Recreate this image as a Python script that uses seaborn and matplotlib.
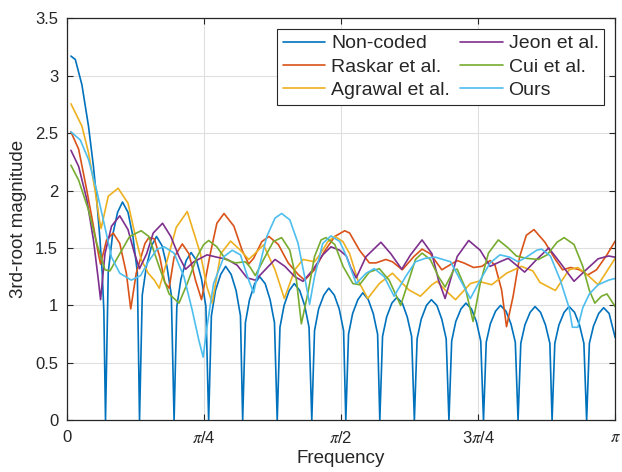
"""
Frequency response (3rd-root magnitude) of blur codes
"""

import numpy as np
import pandas as pd
import matplotlib
matplotlib.use("Agg")
import matplotlib.pyplot as plt
import seaborn as sns
from matplotlib.lines import Line2D

# ---------------------------------------------------------
# DATA (frequency given as a fraction of pi)
# ---------------------------------------------------------
noncoded_x = [0.008, 0.016, 0.028, 0.040, 0.049, 0.055, 0.061, 0.065, 0.068,
              0.071, 0.076, 0.0835, 0.093, 0.102, 0.112, 0.121, 0.129,
              0.133, 0.138, 0.1455, 0.155, 0.164, 0.174, 0.183, 0.191,
              0.196, 0.201, 0.2085, 0.218, 0.227, 0.237, 0.246, 0.254,
              0.259, 0.264, 0.2715, 0.281, 0.290, 0.300, 0.309, 0.317,
              0.321, 0.326, 0.3335, 0.343, 0.352, 0.362, 0.371, 0.379,
              0.384, 0.389, 0.3965, 0.406, 0.415, 0.425, 0.434, 0.442,
              0.447, 0.452, 0.4595, 0.469, 0.478, 0.488, 0.497, 0.505,
              0.509, 0.514, 0.5215, 0.531, 0.540, 0.550, 0.559, 0.567,
              0.571, 0.576, 0.5835, 0.593, 0.602, 0.612, 0.621, 0.629,
              0.634, 0.639, 0.6465, 0.656, 0.665, 0.675, 0.684, 0.692,
              0.697, 0.702, 0.7095, 0.719, 0.728, 0.738, 0.747, 0.755,
              0.760, 0.765, 0.7725, 0.782, 0.791, 0.801, 0.810, 0.818,
              0.823, 0.828, 0.8355, 0.845, 0.854, 0.864, 0.873, 0.881,
              0.885, 0.890, 0.8975, 0.907, 0.916, 0.926, 0.935, 0.943,
              0.948, 0.953, 0.9605, 0.970, 0.979, 0.989, 1.000]
noncoded_y = [3.17, 3.14, 2.92, 2.56, 2.21, 1.92, 1.57, 1.28, 0.95,
              0, 1.29, 1.60, 1.81, 1.90, 1.81, 1.60, 1.29,
              0, 1.09, 1.34, 1.52, 1.60, 1.52, 1.34, 1.09,
              0, 0.99, 1.23, 1.39, 1.46, 1.39, 1.23, 0.99,
              0, 0.91, 1.13, 1.27, 1.34, 1.27, 1.13, 0.91,
              0, 0.85, 1.05, 1.19, 1.25, 1.19, 1.05, 0.85,
              0, 0.81, 1.00, 1.13, 1.19, 1.13, 1.00, 0.81,
              0, 0.78, 0.97, 1.09, 1.15, 1.09, 0.97, 0.78,
              0, 0.75, 0.93, 1.05, 1.11, 1.05, 0.93, 0.75,
              0, 0.73, 0.90, 1.02, 1.07, 1.02, 0.90, 0.73,
              0, 0.71, 0.88, 1.00, 1.05, 1.00, 0.88, 0.71,
              0, 0.69, 0.86, 0.97, 1.02, 0.97, 0.86, 0.69,
              0, 0.68, 0.84, 0.95, 1.00, 0.95, 0.84, 0.68,
              0, 0.67, 0.83, 0.94, 0.99, 0.94, 0.83, 0.67,
              0, 0.67, 0.83, 0.94, 0.99, 0.94, 0.83, 0.67,
              0, 0.67, 0.82, 0.93, 0.98, 0.93, 0.72]

raskar_x = [0.008, 0.022, 0.037, 0.049, 0.058, 0.062, 0.073, 0.085, 0.097, 0.109,
            0.117, 0.127, 0.143, 0.150, 0.160, 0.170, 0.179, 0.187, 0.196, 0.211,
            0.223, 0.235, 0.246, 0.262, 0.274, 0.287, 0.305, 0.320, 0.332, 0.341,
            0.356, 0.369, 0.386, 0.404, 0.422, 0.434, 0.452, 0.470, 0.489, 0.507,
            0.516, 0.534, 0.552, 0.564, 0.582, 0.594, 0.612, 0.633, 0.648, 0.663,
            0.678, 0.684, 0.712, 0.724, 0.742, 0.757, 0.772, 0.781, 0.793, 0.802,
            0.814, 0.826, 0.838, 0.852, 0.872, 0.891, 0.904, 0.919, 0.935, 0.950,
            0.966, 0.985, 1.000]
raskar_y = [2.51, 2.36, 2.00, 1.69, 1.45, 1.36, 1.57, 1.63, 1.54, 1.28,
            0.97, 1.28, 1.54, 1.59, 1.58, 1.42, 1.20, 1.15, 1.42, 1.535,
            1.45, 1.22, 1.05, 1.45, 1.715, 1.80, 1.69, 1.48, 1.36, 1.41,
            1.556, 1.60, 1.53, 1.37, 1.27, 1.22, 1.31, 1.47, 1.60, 1.65,
            1.63, 1.48, 1.37, 1.37, 1.40, 1.38, 1.31, 1.425, 1.49, 1.45,
            1.35, 1.31, 1.39, 1.37, 1.33, 1.34, 1.39, 1.35, 1.135, 0.815,
            1.08, 1.425, 1.61, 1.66, 1.55, 1.40, 1.31, 1.33, 1.31, 1.265,
            1.31, 1.44, 1.56]

agrawal_x = [0.008, 0.028, 0.040, 0.052, 0.060, 0.063, 0.076, 0.094, 0.112, 0.127,
             0.136, 0.149, 0.160, 0.169, 0.185, 0.200, 0.220, 0.244, 0.256, 0.2655,
             0.281, 0.299, 0.317, 0.332, 0.341, 0.359, 0.380, 0.397, 0.416, 0.431,
             0.452, 0.4614, 0.4765, 0.489, 0.5036, 0.516, 0.531, 0.549, 0.570, 0.594,
             0.624, 0.645, 0.666, 0.6754, 0.690, 0.709, 0.736, 0.751, 0.775, 0.802,
             0.829, 0.850, 0.863, 0.891, 0.916, 0.932, 0.953, 0.969, 1.000]
agrawal_y = [2.755, 2.56, 2.33, 2.00, 1.74, 1.67, 1.95, 2.02, 1.89, 1.57,
             1.40, 1.28, 1.22, 1.15, 1.42, 1.68, 1.817, 1.45, 1.16, 1.02,
             1.45, 1.56, 1.48, 1.40, 1.44, 1.527, 1.31, 1.06, 1.31, 1.40,
             1.38, 1.44, 1.556, 1.60, 1.556, 1.45, 1.22, 1.06, 1.19, 1.28,
             1.135, 1.08, 1.18, 1.21, 1.135, 1.05, 1.19, 1.21, 1.18, 1.28,
             1.34, 1.30, 1.20, 1.13, 1.31, 1.33, 1.25, 1.18, 1.41]

jeon_x = [0.008, 0.022, 0.037, 0.049, 0.058, 0.062, 0.070, 0.082, 0.097, 0.112,
          0.124, 0.133, 0.146, 0.158, 0.175, 0.190, 0.205, 0.217, 0.232, 0.256,
          0.274, 0.293, 0.311, 0.329, 0.344, 0.362, 0.380, 0.398, 0.416, 0.431,
          0.449, 0.467, 0.482, 0.498, 0.510, 0.518, 0.528, 0.546, 0.573, 0.591,
          0.611, 0.627, 0.648, 0.666, 0.678, 0.690, 0.712, 0.733, 0.754, 0.772,
          0.790, 0.805, 0.820, 0.835, 0.857, 0.879, 0.900, 0.925, 0.947, 0.969,
          0.988, 1.000]
jeon_y = [2.35, 2.21, 1.92, 1.57, 1.22, 1.05, 1.45, 1.69, 1.78, 1.66,
          1.45, 1.32, 1.45, 1.63, 1.715, 1.60, 1.425, 1.315, 1.38, 1.44,
          1.42, 1.40, 1.35, 1.24, 1.22, 1.31, 1.40, 1.34, 1.25, 1.21,
          1.31, 1.44, 1.51, 1.48, 1.43, 1.33, 1.24, 1.425, 1.55, 1.45,
          1.315, 1.44, 1.57, 1.45, 1.22, 1.06, 1.425, 1.565, 1.48, 1.34,
          1.38, 1.41, 1.35, 1.29, 1.40, 1.50, 1.37, 1.21, 1.31, 1.406,
          1.43, 1.42]

cui_x = [0.008, 0.022, 0.040, 0.055, 0.070, 0.079, 0.097, 0.115, 0.136, 0.150,
         0.170, 0.187, 0.205, 0.220, 0.238, 0.250, 0.259, 0.274, 0.290, 0.308,
         0.326, 0.335, 0.344, 0.362, 0.377, 0.392, 0.407, 0.419, 0.428, 0.440,
         0.452, 0.464, 0.473, 0.489, 0.504, 0.522, 0.534, 0.552, 0.570, 0.588,
         0.609, 0.624, 0.636, 0.648, 0.663, 0.678, 0.690, 0.706, 0.712, 0.727,
         0.741, 0.754, 0.769, 0.787, 0.805, 0.820, 0.838, 0.860, 0.876, 0.894,
         0.907, 0.925, 0.941, 0.953, 0.963, 0.975, 0.985, 1.000]
cui_y = [2.22, 2.09, 1.83, 1.54, 1.31, 1.30, 1.45, 1.60, 1.65, 1.60,
         1.32, 1.10, 1.02, 1.19, 1.425, 1.53, 1.565, 1.51, 1.40, 1.37,
         1.38, 1.33, 1.26, 1.425, 1.556, 1.59, 1.48, 1.22, 0.84, 1.11,
         1.425, 1.57, 1.59, 1.53, 1.34, 1.19, 1.18, 1.29, 1.32, 1.22,
         1.00, 1.22, 1.40, 1.455, 1.40, 1.25, 1.16, 1.31, 1.315, 1.15,
         0.86, 1.19, 1.455, 1.57, 1.50, 1.43, 1.41, 1.40, 1.44, 1.55,
         1.59, 1.53, 1.34, 1.13, 1.02, 1.08, 1.10, 0.99]

ours_x = [0.008, 0.025, 0.040, 0.055, 0.070, 0.082, 0.097, 0.118, 0.135, 0.149,
          0.165, 0.178, 0.196, 0.214, 0.229, 0.241, 0.249, 0.256, 0.268, 0.287,
          0.302, 0.317, 0.332, 0.341, 0.350, 0.365, 0.380, 0.392, 0.407, 0.422,
          0.434, 0.443, 0.452, 0.467, 0.482, 0.498, 0.509, 0.518, 0.528, 0.546,
          0.561, 0.579, 0.597, 0.618, 0.636, 0.654, 0.672, 0.700, 0.718, 0.736,
          0.754, 0.772, 0.790, 0.808, 0.823, 0.838, 0.857, 0.866, 0.882, 0.900,
          0.916, 0.922, 0.932, 0.941, 0.953, 0.969, 0.988, 1.000]
ours_y = [2.51, 2.44, 2.27, 2.00, 1.68, 1.42, 1.28, 1.22, 1.26, 1.38,
          1.49, 1.51, 1.455, 1.25, 0.96, 0.70, 0.55, 0.815, 1.19, 1.425,
          1.48, 1.44, 1.22, 1.11, 1.31, 1.60, 1.76, 1.80, 1.745, 1.54,
          1.25, 1.01, 1.25, 1.54, 1.605, 1.556, 1.44, 1.32, 1.19, 1.28,
          1.32, 1.25, 1.08, 1.25, 1.38, 1.41, 1.42, 1.38, 1.22, 1.06,
          1.22, 1.37, 1.44, 1.42, 1.38, 1.42, 1.48, 1.49, 1.43, 1.22,
          0.98, 0.81, 0.81, 0.98, 1.10, 1.18, 1.22, 1.235]

labels = ['Non-coded', 'Raskar et al.', 'Agrawal et al.',
          'Jeon et al.', 'Cui et al.', 'Ours']
colors = ['#0072BD', '#D95319', '#EDB120', '#7E2F8E', '#77AC30', '#4DBEEE']
xtick_pos = [0, 0.25, 0.5, 0.75, 1.0]
xtick_labels = ['0', r'$\pi$/4', r'$\pi$/2', r'3$\pi$/4', r'$\pi$']
ytick_pos = [0, 0.5, 1, 1.5, 2, 2.5, 3, 3.5]
ytick_labels = ['0', '0.5', '1', '1.5', '2', '2.5', '3', '3.5']

series = [(noncoded_x, noncoded_y), (raskar_x, raskar_y), (agrawal_x, agrawal_y),
          (jeon_x, jeon_y), (cui_x, cui_y), (ours_x, ours_y)]

# ---------------------------------------------------------
# STYLE
# ---------------------------------------------------------
sns.set_style("ticks")
plt.rcParams['font.family'] = ['Liberation Sans', 'DejaVu Sans']
plt.rcParams['mathtext.fontset'] = 'stix'
plt.rcParams['axes.edgecolor'] = '#262626'
plt.rcParams['xtick.color'] = '#262626'
plt.rcParams['ytick.color'] = '#262626'

fig = plt.figure(figsize=(6.22, 4.72), dpi=100)
ax = fig.add_axes([0.107, 0.1095, 0.882, 0.852])

for (xs, ys), name, col in zip(series, labels, colors):
    df = pd.DataFrame({'freq': xs, 'mag': ys})
    sns.lineplot(data=df, x='freq', y='mag', color=col, linewidth=1.2,
                 estimator=None, sort=False, ax=ax, label=name, legend=False)

ax.set_xlim(0, 1)
ax.set_ylim(0, 3.5)
ax.set_xticks(xtick_pos)
ax.set_xticklabels(xtick_labels)
ax.set_yticks(ytick_pos)
ax.set_yticklabels(ytick_labels)
ax.tick_params(direction='in', length=4, width=0.8, labelsize=12,
               top=True, right=True)
ax.tick_params(axis='x', pad=7)
ax.tick_params(axis='y', pad=6)
ax.grid(True, color='#DFDFDF', linewidth=0.8)
ax.set_axisbelow(True)
for sp in ax.spines.values():
    sp.set_linewidth(0.9)

ax.set_xlabel('Frequency', fontsize=13.5, labelpad=3)
ax.set_ylabel('3rd-root magnitude', fontsize=13.5, labelpad=6)

handles = [Line2D([], [], color=c, linewidth=1.2) for c in colors]
leg = ax.legend(handles, labels, ncol=2, loc='upper right', fontsize=14,
                frameon=True, fancybox=False, framealpha=1, edgecolor='#262626',
                borderaxespad=0.55, handlelength=2.2, handletextpad=0.3,
                columnspacing=0.5, labelspacing=0.3, borderpad=0.3)
leg.get_frame().set_linewidth(0.8)

fig.savefig('out.png', dpi=100, facecolor='white')
